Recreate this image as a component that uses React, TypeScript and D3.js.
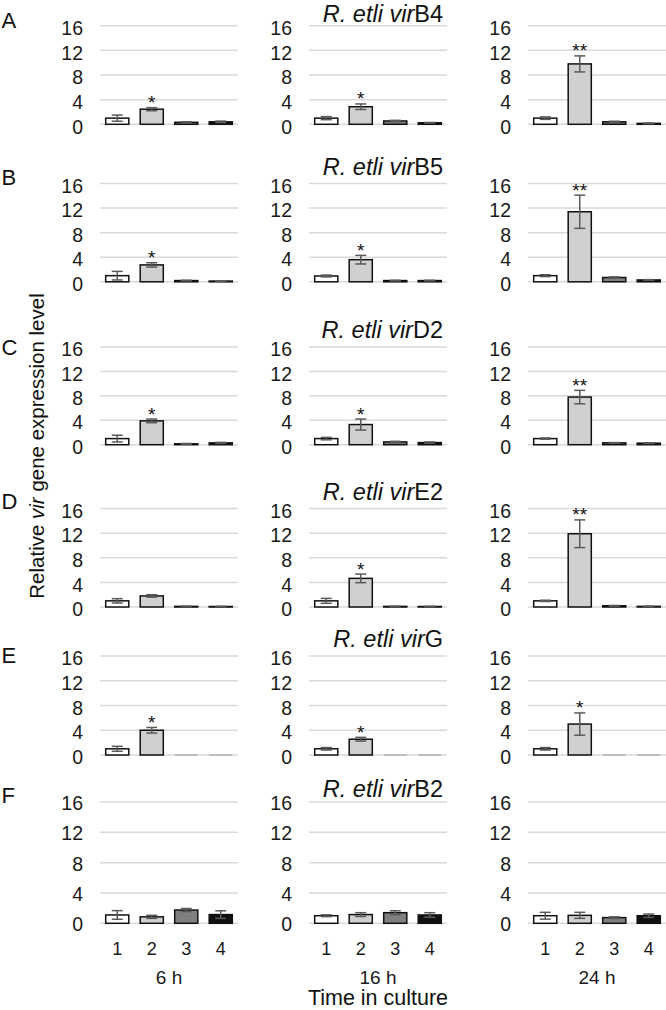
import React from "react";
import * as d3 from "d3";

// ---------- data ----------
const groups = ["1", "2", "3", "4"];
const timeLabels = ["6 h", "16 h", "24 h"];
const panelLetters = ["A", "B", "C", "D", "E", "F"];
const geneNames = ["B4", "B5", "D2", "E2", "G", "B2"];
const yTicks = [0, 4, 8, 12, 16];
const barColors = ["#ffffff", "#d0d0d0", "#7f7f7f", "#111111"];

// means[time][group]
const virB4Mean = [[1.0, 2.45, 0.32, 0.4], [1.0, 2.85, 0.54, 0.25], [1.0, 9.8, 0.4, 0.15]];
const virB4Err = [[0.5, 0.25, 0.1, 0.12], [0.25, 0.45, 0.1, 0.05], [0.2, 1.3, 0.1, 0.05]];
const virB4Sig = [["", "*", "", ""], ["", "*", "", ""], ["", "**", "", ""]];

const virB5Mean = [[1.0, 2.75, 0.2, 0.12], [0.95, 3.6, 0.2, 0.2], [1.0, 11.4, 0.7, 0.3]];
const virB5Err = [[0.7, 0.35, 0.05, 0.03], [0.15, 0.7, 0.05, 0.05], [0.15, 2.7, 0.1, 0.05]];
const virB5Sig = [["", "*", "", ""], ["", "*", "", ""], ["", "**", "", ""]];

const virD2Mean = [[1.0, 3.9, 0.15, 0.3], [1.0, 3.3, 0.45, 0.35], [1.0, 7.8, 0.3, 0.25]];
const virD2Err = [[0.55, 0.3, 0.05, 0.08], [0.2, 0.9, 0.1, 0.1], [0.1, 1.1, 0.05, 0.05]];
const virD2Sig = [["", "*", "", ""], ["", "*", "", ""], ["", "**", "", ""]];

const virE2Mean = [[1.0, 1.8, 0.1, 0.08], [1.0, 4.65, 0.1, 0.08], [1.0, 11.9, 0.2, 0.1]];
const virE2Err = [[0.35, 0.2, 0.02, 0.02], [0.4, 0.7, 0.02, 0.02], [0.1, 2.25, 0.05, 0.02]];
const virE2Sig = [["", "", "", ""], ["", "*", "", ""], ["", "**", "", ""]];

const virGMean = [[1.0, 4.0, 0, 0], [1.0, 2.55, 0, 0], [1.0, 5.0, 0, 0]];
const virGErr = [[0.4, 0.45, 0, 0], [0.2, 0.3, 0, 0], [0.2, 1.8, 0, 0]];
const virGSig = [["", "*", "", ""], ["", "*", "", ""], ["", "*", "", ""]];

const virB2Mean = [[1.1, 0.85, 1.75, 1.15], [1.0, 1.15, 1.4, 1.1], [1.0, 1.05, 0.75, 1.0]];
const virB2Err = [[0.57, 0.2, 0.2, 0.5], [0.12, 0.25, 0.25, 0.3], [0.45, 0.4, 0.1, 0.22]];
const virB2Sig = [["", "", "", ""], ["", "", "", ""], ["", "", "", ""]];

const allMeans = [virB4Mean, virB5Mean, virD2Mean, virE2Mean, virGMean, virB2Mean];
const allErrs = [virB4Err, virB5Err, virD2Err, virE2Err, virGErr, virB2Err];
const allSigs = [virB4Sig, virB5Sig, virD2Sig, virE2Sig, virGSig, virB2Sig];

// ---------- layout ----------
const W = 666;
const H = 1010;
const colLeft = [100, 309, 528];
const plotW = 138;
const rowTop = [25.7, 183.5, 347, 508.5, 656, 802];
const rowBottom = [124.3, 281.8, 444.7, 607, 755, 923.3];
const letterBase = [28, 185, 355, 508.5, 663, 803];
const titleBase = [21.5, 174.5, 338, 499.5, 647, 796.5];
const FONT = "'Liberation Sans', Arial, Helvetica, sans-serif";

function Panel({ r, c }: { r: number; c: number }) {
  const left = colLeft[c];
  const x = d3
    .scaleBand<string>()
    .domain(groups)
    .range([left, left + plotW])
    .paddingInner(0.33)
    .paddingOuter(0.165);
  const y = d3.scaleLinear().domain([0, 16]).range([rowBottom[r], rowTop[r]]);
  const means = allMeans[r][c];
  const errs = allErrs[r][c];
  const sigs = allSigs[r][c];
  const isLast = r === panelLetters.length - 1;
  const labOff = isLast ? 8 : 9.2;
  const bw = x.bandwidth();
  return (
    <g>
      {yTicks.map((t) => (
        <g key={t}>
          <line x1={left} x2={left + plotW} y1={y(t)} y2={y(t)} stroke="#d9d9d9" strokeWidth={1.5} />
          <text x={left - 17} y={y(t) + labOff} textAnchor="end" fontSize={19.5} fill="#1a1a1a">
            {t}
          </text>
        </g>
      ))}
      {groups.map((g, i) => {
        const v = means[i];
        const bx = x(g) as number;
        if (v <= 0) {
          return (
            <line key={g} x1={bx} x2={bx + bw} y1={y(0)} y2={y(0)} stroke="#a6a6a6" strokeWidth={1.2} />
          );
        }
        return (
          <rect
            key={g}
            x={bx}
            y={y(v)}
            width={bw}
            height={y(0) - y(v)}
            fill={barColors[i]}
            stroke="#111"
            strokeWidth={1.5}
          />
        );
      })}
      {groups.map((g, i) => {
        const v = means[i];
        const e = errs[i];
        if (v <= 0 || e <= 0) return null;
        const cx = (x(g) as number) + bw / 2;
        const cap = 5.5;
        return (
          <g key={g} stroke="#5a5a5a" strokeWidth={1.5}>
            <line x1={cx} x2={cx} y1={y(v + e)} y2={y(v - e)} />
            <line x1={cx - cap} x2={cx + cap} y1={y(v + e)} y2={y(v + e)} />
            <line x1={cx - cap} x2={cx + cap} y1={y(v - e)} y2={y(v - e)} />
          </g>
        );
      })}
      {groups.map((g, i) => {
        const s = sigs[i];
        if (!s) return null;
        const cx = (x(g) as number) + bw / 2;
        return (
          <text key={g} x={cx} y={y(means[i] + errs[i]) + 1.5} textAnchor="middle" fontSize={19} fill="#111">
            {s}
          </text>
        );
      })}
      {isLast &&
        groups.map((g) => (
          <text
            key={g}
            x={(x(g) as number) + bw / 2}
            y={955}
            textAnchor="middle"
            fontSize={18}
            fill="#1a1a1a"
          >
            {g}
          </text>
        ))}
      {isLast && (
        <text x={left + plotW / 2} y={984} textAnchor="middle" fontSize={19} fill="#1a1a1a">
          {timeLabels[c]}
        </text>
      )}
    </g>
  );
}

export default function App() {
  return (
    <svg
      width={W}
      height={H}
      viewBox={`0 0 ${W} ${H}`}
      style={{ position: "absolute", left: 0, top: 0, background: "#fff" }}
      fontFamily={FONT}
    >
      <rect x={0} y={0} width={W} height={H} fill="#fff" />
      {panelLetters.map((L, r) => (
        <g key={L}>
          <text x={1.5} y={letterBase[r]} fontSize={22} fill="#111">
            {L}
          </text>
          <text x={443} y={titleBase[r]} textAnchor="end" fontSize={23.5} fill="#111">
            <tspan fontStyle="italic">R. etli vir</tspan>
            <tspan>{geneNames[r]}</tspan>
          </text>
          {colLeft.map((_, c) => (
            <Panel key={c} r={r} c={c} />
          ))}
        </g>
      ))}
      <text
        transform="translate(43.5,446) rotate(-90)"
        textAnchor="middle"
        fontSize={20.5}
        fill="#111"
      >
        Relative <tspan fontStyle="italic">vir</tspan> gene expression level
      </text>
      <text x={colLeft[1] + plotW / 2} y={1005} textAnchor="middle" fontSize={21.5} fill="#111">
        Time in culture
      </text>
    </svg>
  );
}
